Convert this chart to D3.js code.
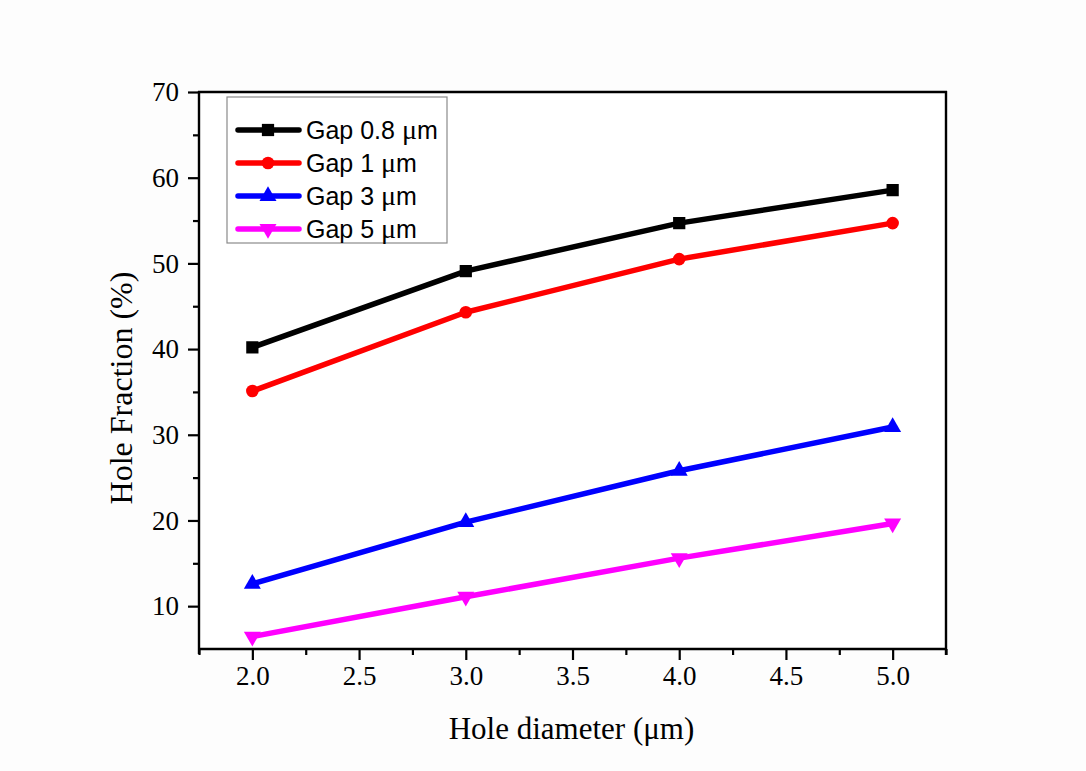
<!DOCTYPE html>
<html>
<head>
<meta charset="utf-8">
<script src="https://cdn.jsdelivr.net/npm/d3@7"></script>
<style>
  html, body { margin: 0; padding: 0; background: #fdfdfd; }
  svg { display: block; }
</style>
</head>
<body>
<svg id="chart" width="1086" height="771"></svg>
<script>
// Hole fraction vs. hole diameter for several gap widths
const diameters = [2.0, 3.0, 4.0, 5.0];
const gap08 = [40.2, 49.1, 54.7, 58.55];
const gap1  = [35.1, 44.3, 50.5, 54.7];
const gap3  = [12.6, 19.8, 25.8, 30.9];
const gap5  = [6.45, 11.1, 15.6, 19.65];

const seriesNames = ["Gap 0.8 ", "Gap 1 ", "Gap 3 ", "Gap 5 "];
const seriesColors = ["#000000", "#ff0000", "#0000ff", "#ff00ff"];
const seriesSymbols = ["square", "circle", "triangleUp", "triangleDown"];

const xTicks = [2.0, 2.5, 3.0, 3.5, 4.0, 4.5, 5.0];
const xMinor = [1.75, 2.25, 2.75, 3.25, 3.75, 4.25, 4.75, 5.25];
const yTicks = [10, 20, 30, 40, 50, 60, 70];
const yMinor = [15, 25, 35, 45, 55, 65];

const series = [gap08, gap1, gap3, gap5].map((vals, i) => ({
  name: seriesNames[i],
  color: seriesColors[i],
  symbol: seriesSymbols[i],
  points: diameters.map((d, j) => ({ x: d, y: vals[j] }))
}));

const svg = d3.select("#chart");
const plot = { left: 199, right: 946, top: 92, bottom: 649 };

const x = d3.scaleLinear().domain([1.75, 5.25]).range([plot.left, plot.right]);
const y = d3.scaleLinear().domain([5, 70]).range([plot.bottom, plot.top]);

// White plot background
svg.append("rect")
  .attr("x", plot.left).attr("y", plot.top)
  .attr("width", plot.right - plot.left).attr("height", plot.bottom - plot.top)
  .attr("fill", "#ffffff");

const serif = "'Liberation Serif', 'Times New Roman', serif";
const sans = "'Liberation Sans', Arial, sans-serif";

// Bottom axis with major and minor ticks
svg.append("g").attr("transform", `translate(0,${plot.bottom})`)
  .call(d3.axisBottom(x).tickValues(xTicks).tickFormat(d3.format(".1f")).tickSize(11).tickPadding(6));
svg.append("g").attr("transform", `translate(0,${plot.bottom})`)
  .call(d3.axisBottom(x).tickValues(xMinor).tickFormat("").tickSize(6))
  .call(g => g.select(".domain").remove());

// Left axis with major and minor ticks
svg.append("g").attr("transform", `translate(${plot.left},0)`)
  .call(d3.axisLeft(y).tickValues(yTicks).tickSize(11).tickPadding(9));
svg.append("g").attr("transform", `translate(${plot.left},0)`)
  .call(d3.axisLeft(y).tickValues(yMinor).tickFormat("").tickSize(6))
  .call(g => g.select(".domain").remove());

svg.selectAll(".domain").remove();
svg.selectAll(".tick line").attr("stroke", "#000").attr("stroke-width", 2.2);
svg.selectAll(".tick text")
  .attr("font-family", serif).attr("font-size", 27).attr("fill", "#000");

// Frame around the plot area
const frame = svg.append("g").attr("stroke", "#000").attr("stroke-width", 2.4).attr("fill", "none");
frame.append("line").attr("x1", plot.left).attr("x2", plot.left).attr("y1", plot.top - 1).attr("y2", plot.bottom + 5);
frame.append("line").attr("x1", plot.right).attr("x2", plot.right).attr("y1", plot.top - 1).attr("y2", plot.bottom + 6);
frame.append("line").attr("x1", plot.left - 1).attr("x2", plot.right + 1).attr("y1", plot.top).attr("y2", plot.top);
frame.append("line").attr("x1", plot.left - 1).attr("x2", plot.right + 1).attr("y1", plot.bottom).attr("y2", plot.bottom);

// Axis titles
const xTitle = svg.append("text")
  .attr("x", (plot.left + plot.right) / 2 - 1).attr("y", 739)
  .attr("text-anchor", "middle")
  .attr("font-family", serif).attr("font-size", 31).attr("fill", "#000");
xTitle.append("tspan").text("Hole diameter (");
xTitle.append("tspan").text("\u03bc");
xTitle.append("tspan").text("m)");

svg.append("text")
  .attr("transform", `translate(132,${(273 + 503) / 2}) rotate(-90)`)
  .attr("text-anchor", "middle")
  .attr("font-family", serif).attr("font-size", 32).attr("fill", "#000")
  .text("Hole Fraction (%)");

// Symbol generators
const symbolType = {
  square: d3.symbolSquare,
  circle: d3.symbolCircle,
  triangleUp: d3.symbolTriangle,
  triangleDown: d3.symbolTriangle
};
const symbolSize = { square: 150, circle: 125, triangleUp: 125, triangleDown: 125 };
function drawSymbol(sel, s) {
  sel.attr("d", d3.symbol().type(symbolType[s.symbol]).size(symbolSize[s.symbol])())
    .attr("fill", s.color);
}

const line = d3.line().x(d => x(d.x)).y(d => y(d.y));

const seriesG = svg.append("g").selectAll("g").data(series).join("g");
seriesG.append("path")
  .attr("d", s => line(s.points))
  .attr("fill", "none")
  .attr("stroke", s => s.color)
  .attr("stroke-width", 5.5)
  .attr("stroke-linejoin", "round");
seriesG.each(function (s) {
  d3.select(this).selectAll("path.mark").data(s.points).join("path")
    .attr("class", "mark")
    .attr("transform", d => `translate(${x(d.x)},${y(d.y)})${s.symbol === "triangleDown" ? " rotate(180)" : ""}`)
    .call(sel => drawSymbol(sel, s));
});

// Legend
const legend = svg.append("g");
legend.append("rect")
  .attr("x", 227).attr("y", 97).attr("width", 220).attr("height", 146)
  .attr("fill", "#ffffff").attr("stroke", "#8a8a8a").attr("stroke-width", 1.2);
const rowY = [130, 163, 196, 229];
series.forEach((s, i) => {
  const g = legend.append("g").attr("transform", `translate(0,${rowY[i]})`);
  g.append("line").attr("x1", 238).attr("x2", 299).attr("y1", 0).attr("y2", 0)
    .attr("stroke", s.color).attr("stroke-width", 5.5).attr("stroke-linecap", "round");
  g.append("path")
    .attr("transform", `translate(268,0)${s.symbol === "triangleDown" ? " rotate(180)" : ""}`)
    .call(sel => drawSymbol(sel, s));
  const t = g.append("text").attr("x", 306).attr("y", 9)
    .attr("font-family", sans).attr("font-size", 25).attr("fill", "#000");
  t.append("tspan").text(s.name);
  t.append("tspan").attr("font-family", serif).attr("font-size", 28).text("\u03bc");
  t.append("tspan").text("m");
});
</script>
</body>
</html>
